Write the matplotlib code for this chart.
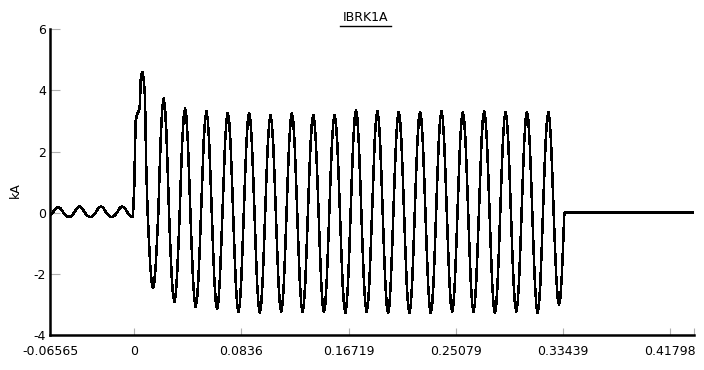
import numpy as np
import matplotlib
matplotlib.use("Agg")
import matplotlib.pyplot as plt
from matplotlib.lines import Line2D

# breaker current IBRK1A, sampled 16 points per 60 Hz cycle
dt = 1 / 960
t_end = 0.4367

# shape of one half cycle (levels seen at each sample, relative to the lobe peak)
half_shape = [0.0, 0.38, 0.71, 0.92, 1.0, 0.92, 0.71, 0.38]

# load current before the fault: signed lobe extremes, kA
pre_lobes = [-0.14, 0.18, -0.14, 0.20, -0.14, 0.20, -0.14, 0.20, -0.14]
pre_start = -69

# first half cycle after the fault (offset by DC), kA
first_lobe = [0.9, 3.0, 3.2, 3.3, 3.4, 4.5, 4.6, 4.4, 3.8, 1.4]

# fault current extremes per cycle, kA
trough_vals = [-2.47, -2.92, -3.08, -3.15, -3.25, -3.28, -3.25, -3.25, -3.25, -3.28,
               -3.24, -3.29, -3.29, -3.29, -3.24, -3.24, -3.29, -3.24, -3.29, -3.02]
peak_vals = [3.74, 3.41, 3.32, 3.27, 3.27, 3.19, 3.25, 3.20, 3.20, 3.35,
             3.33, 3.30, 3.30, 3.33, 3.30, 3.33, 3.30, 3.30, 3.30]

x_ticks = [-0.06565, 0, 0.0836, 0.16719, 0.25079, 0.33439, 0.41798]
x_labels = ["-0.06565", "0", "0.0836", "0.16719", "0.25079", "0.33439", "0.41798"]
y_ticks = [-4, -2, 0, 2, 4, 6]
y_labels = ["-4", "-2", "0", "2", "4", "6"]


def lobes_to_samples(lobes):
    return np.concatenate([np.array(half_shape) * v for v in lobes])


# pre-fault part, stops one sample before t = 0
pre = lobes_to_samples(pre_lobes)[:-pre_start]
n_pre = np.arange(pre_start, 0)

# fault part: troughs and peaks alternate after the first lobe
fault_lobes = []
for k in range(len(trough_vals)):
    fault_lobes.append(trough_vals[k])
    if k < len(peak_vals):
        fault_lobes.append(peak_vals[k])
fault = np.concatenate([first_lobe, lobes_to_samples(fault_lobes), [0.0]])
n_fault = np.arange(len(fault))

t = np.concatenate([n_pre * dt, n_fault * dt, [t_end]])
i_ka = np.concatenate([pre, fault, [0.0]])

plt.rcParams['font.family'] = ['DejaVu Sans']

W, H = 704, 370
fig = plt.figure(figsize=(W / 100, H / 100), dpi=100)
ax = fig.add_axes([50.1 / W, 1 - 335 / H, (694.2 - 50.1) / W, (335 - 29.3) / H])

ax.plot(t, i_ka, color='black', lw=1.1, antialiased=False)

ax.set_xlim(-0.06565, t_end)
ax.set_ylim(-4, 6)
ax.set_xticks(x_ticks)
ax.set_xticklabels(x_labels)
ax.set_xticks([t_end], minor=True)
ax.set_yticks(y_ticks)
ax.set_yticklabels(y_labels)

ax.tick_params(axis='x', which='both', direction='in', length=5, width=0.8,
               color='#b0b0b0', labelsize=9, pad=7)
ax.tick_params(axis='y', direction='in', length=7.5, width=0.8,
               color='#b0b0b0', labelsize=9, pad=3)
ax.xaxis.get_major_ticks()[1].tick1line.set_color('red')

for side in ['top', 'right']:
    ax.spines[side].set_visible(False)
for side in ['left', 'bottom']:
    ax.spines[side].set_linewidth(1.8)
    ax.spines[side].set_color('black')

fig.text(15 / W, 1 - 190 / H, 'kA', rotation=90, ha='center', va='center', fontsize=9)
title = fig.text(366 / W, 1 - 17.5 / H, 'IBRK1A', ha='center', va='center', fontsize=9)

# underline the title
fig.canvas.draw()
bb = title.get_window_extent(fig.canvas.get_renderer())
uy = bb.y0 - 1.5
fig.add_artist(Line2D([bb.x0 - 3, bb.x1 + 2], [uy, uy], color='black', lw=1.0,
                      transform=None))

fig.savefig('out.png', dpi=100)
